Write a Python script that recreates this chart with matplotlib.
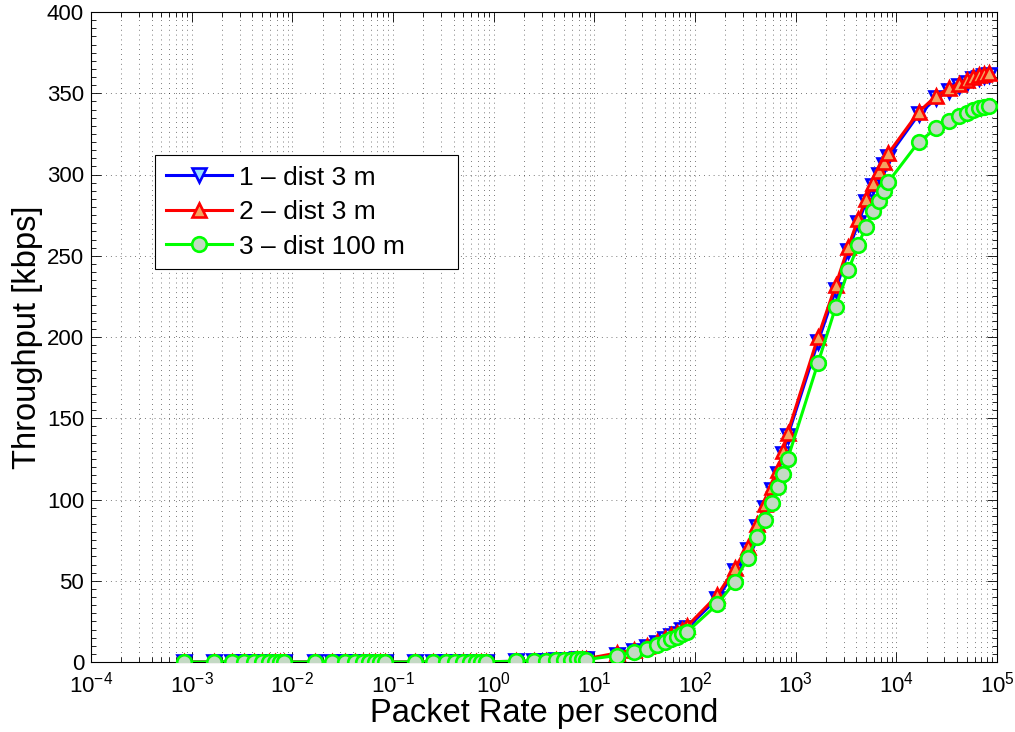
import matplotlib
matplotlib.use("Agg")
import matplotlib.pyplot as plt
from matplotlib.ticker import LogLocator, MultipleLocator, NullFormatter

plt.rcParams['font.family'] = ['Liberation Sans', 'DejaVu Sans']
plt.rcParams['mathtext.fontset'] = 'custom'
plt.rcParams['mathtext.rm'] = 'Liberation Sans'
plt.rcParams['mathtext.it'] = 'Liberation Sans:italic'
plt.rcParams['mathtext.bf'] = 'Liberation Sans:bold'

# Packet rate (packets per second)
rate = [0.000833, 0.001667, 0.0025, 0.003333, 0.004167, 0.005, 0.005833, 0.006667, 0.0075,
        0.008333, 0.016667, 0.025, 0.033333, 0.041667, 0.05, 0.058333, 0.066667, 0.075,
        0.08333, 0.16667, 0.25, 0.33333, 0.41667, 0.5, 0.58333, 0.66667, 0.75,
        0.8333, 1.6667, 2.5, 3.3333, 4.1667, 5.0, 5.8333, 6.6667, 7.5,
        8.333, 16.667, 25.0, 33.333, 41.667, 50.0, 58.333, 66.667, 75.0,
        83.33, 166.67, 250.0, 333.33, 416.67, 500.0, 583.33, 666.67, 750.0,
        833.3, 1666.7, 2500.0, 3333.3, 4166.7, 5000.0, 5833.3, 6666.7, 7500.0,
        8333.0, 16667.0, 25000.0, 33333.0, 41667.0, 50000.0, 58333.0, 66667.0, 75000.0,
        83333.0]

# Throughput [kbps]
thr_1 = [0.0, 0.0, 0.0, 0.0, 0.0, 0.0, 0.0, 0.0, 0.0,
         0.0, 0.0, 0.0, 0.0, 0.0, 0.0, 0.0, 0.0, 0.0,
         0.0, 0.0, 0.1, 0.1, 0.1, 0.1, 0.1, 0.2, 0.2,
         0.2, 0.4, 0.6, 0.8, 1.0, 1.2, 1.4, 1.6, 1.8,
         2.0, 4.5, 7.0, 9.5, 12.0, 14.0, 16.0, 17.5, 19.5,
         21.0, 39.0, 56.0, 69.0, 83.0, 95.0, 106.0, 116.0, 128.0,
         139.0, 197.0, 229.0, 253.0, 270.0, 283.0, 293.0, 300.0, 306.0,
         311.0, 337.0, 347.0, 351.5, 354.5, 356.5, 358.5, 359.5, 360.5,
         361.0]
thr_2 = [0.0, 0.0, 0.0, 0.0, 0.0, 0.0, 0.0, 0.0, 0.0,
         0.0, 0.0, 0.0, 0.0, 0.0, 0.0, 0.0, 0.0, 0.0,
         0.0, 0.0, 0.1, 0.1, 0.1, 0.1, 0.1, 0.2, 0.2,
         0.2, 0.4, 0.6, 0.8, 1.0, 1.2, 1.4, 1.6, 1.8,
         2.0, 5.5, 7.5, 10.0, 12.5, 14.5, 16.5, 18.0, 20.0,
         22.0, 41.0, 58.0, 71.0, 85.0, 97.0, 108.0, 118.0, 130.0,
         141.0, 200.0, 232.0, 255.5, 272.5, 285.0, 295.0, 302.0, 308.0,
         313.0, 338.5, 348.5, 353.0, 356.0, 358.0, 360.0, 361.0, 362.0,
         362.5]
thr_3 = [0.0, 0.0, 0.0, 0.0, 0.0, 0.0, 0.0, 0.0, 0.0,
         0.0, 0.0, 0.0, 0.0, 0.0, 0.0, 0.0, 0.0, 0.0,
         0.0, 0.0, 0.1, 0.1, 0.1, 0.1, 0.1, 0.2, 0.2,
         0.2, 0.4, 0.6, 0.8, 1.0, 1.2, 1.4, 1.6, 1.8,
         1.5, 4.0, 6.0, 8.0, 10.5, 12.5, 14.0, 15.5, 17.0,
         18.5, 35.5, 49.5, 64.0, 77.0, 87.5, 98.0, 108.0, 116.0,
         125.0, 184.0, 218.5, 241.0, 256.5, 268.0, 277.5, 284.0, 290.0,
         295.5, 320.0, 328.5, 333.0, 336.0, 338.0, 340.0, 341.0, 341.5,
         342.0]

labels = ['1 \u2013 dist 3 m', '2 \u2013 dist 3 m', '3 \u2013 dist 100 m']
x_ticks = [1e-4, 1e-3, 1e-2, 1e-1, 1e0, 1e1, 1e2, 1e3, 1e4, 1e5]
x_ticklabels = [r'$10^{-4}$', r'$10^{-3}$', r'$10^{-2}$', r'$10^{-1}$', r'$10^{0}$',
                r'$10^{1}$', r'$10^{2}$', r'$10^{3}$', r'$10^{4}$', r'$10^{5}$']
y_ticks = [0, 50, 100, 150, 200, 250, 300, 350, 400]

fig = plt.figure(figsize=(10.15, 7.32), dpi=100)
ax = fig.add_axes([91/1015, 1-662/732, (997-91)/1015, (662-12)/732])

lw = 2.2
ms = 10.5
mew = 1.9
ax.plot(rate, thr_1, color='#0000ff', lw=lw, marker='v', ms=ms, mec='#0000ff',
        mfc='#99e0ff', mew=mew, label=labels[0], zorder=3)
ax.plot(rate, thr_2, color='#ff0000', lw=lw, marker='^', ms=ms, mec='#ff0000',
        mfc='#f4a460', mew=mew, label=labels[1], zorder=4)
ax.plot(rate, thr_3, color='#00ff00', lw=lw, marker='o', ms=ms, mec='#00ff00',
        mfc='#c4d9c4', mew=mew, label=labels[2], zorder=5)

ax.set_xscale('log')
ax.set_xlim(1e-4, 1e5)
ax.set_ylim(0, 400)
ax.set_xticks(x_ticks)
ax.set_xticklabels(x_ticklabels)
ax.xaxis.set_minor_locator(LogLocator(base=10, subs=range(2, 10), numticks=20))
ax.xaxis.set_minor_formatter(NullFormatter())
ax.set_yticks(y_ticks)
ax.yaxis.set_minor_locator(MultipleLocator(5))

ax.tick_params(which='both', direction='in', top=True, right=True, labelsize=16,
               width=0.6, colors='black')
ax.tick_params(which='major', length=7)
ax.tick_params(which='minor', length=3.5)
ax.tick_params(axis='x', pad=7)
ax.tick_params(axis='y', pad=5)

gkw = dict(color='black', lw=0.5, linestyle=(0, (1, 6)))
ax.grid(True, which='major', axis='both', **gkw)
ax.grid(True, which='minor', axis='x', **gkw)
ax.set_axisbelow(True)
for sp in ax.spines.values():
    sp.set_linewidth(0.8)

ax.set_xlabel('Packet Rate per second', fontsize=23.5, labelpad=0)
ax.set_ylabel('Throughput [kbps]', fontsize=23.5, labelpad=3)

lx0 = (155-91)/906
ly1 = (662-155)/650
lw_ = (458-155)/906
lh = (268-155)/650
leg = ax.legend(loc='upper left', bbox_to_anchor=(lx0, ly1 - lh, lw_, lh), mode='expand',
                fontsize=19, handlelength=2.5, frameon=True, fancybox=False,
                edgecolor='black', framealpha=1, borderpad=0.4, labelspacing=0.4,
                handletextpad=0.3, borderaxespad=0)
leg.get_frame().set_linewidth(0.8)

fig.savefig('out.png', dpi=100)
